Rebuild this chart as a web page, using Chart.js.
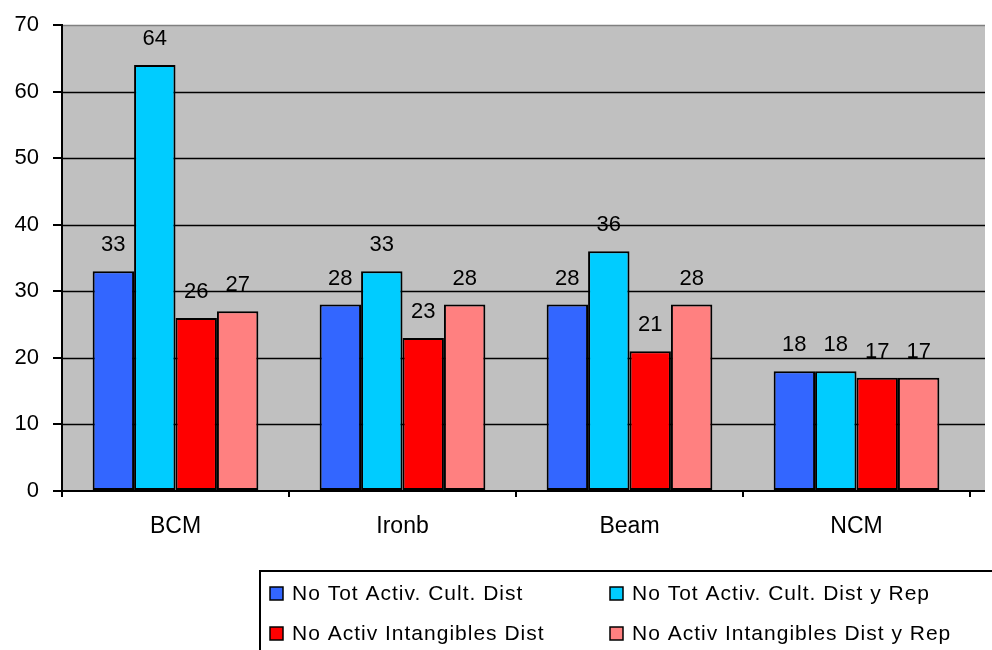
<!DOCTYPE html>
<html>
<head>
<meta charset="utf-8">
<script src="https://cdn.jsdelivr.net/npm/chart.js@4"></script>
<style>
  html, body { margin: 0; padding: 0; background: #fff; }
  #wrap { width: 992px; height: 650px; }
</style>
</head>
<body>
<div id="wrap"><canvas id="chart" width="992" height="650"></canvas></div>
<script>
/*===== DATA =====*/

const categories = ["BCM", "Ironb", "Beam", "NCM"];
const seriesNames = [
    "No Tot Activ. Cult. Dist",
    "No Tot Activ. Cult. Dist y Rep",
    "No Activ Intangibles Dist",
    "No Activ Intangibles Dist y Rep"
];
const totCultDist = [33, 28, 28, 18];
const totCultDistRep = [64, 33, 36, 18];
const intangDist = [26, 23, 21, 17];
const intangDistRep = [27, 28, 28, 17];
const yTicks = [0, 10, 20, 30, 40, 50, 60, 70];

const colours = ["#3366FF", "#00CCFF", "#FF0000", "#FF8080"];
const FONT = "'Liberation Sans', Arial, sans-serif";

/*===== PLUGINS =====*/

// gray plot background + horizontal grid lines (extend a bit past the last category)
var plotBg = {
    id: "plotBg",
    beforeDraw: function(chart) {
        var ctx = chart.ctx, a = chart.chartArea, y = chart.scales.y;
        var right = a.right + 15;
        ctx.save();
        ctx.fillStyle = "#C0C0C0";
        ctx.fillRect(a.left, a.top, right - a.left, a.bottom - a.top);
        yTicks.forEach(function(v) {
            if (v === 0) return;
            var py = Math.round(y.getPixelForValue(v)) + 0.5;
            ctx.strokeStyle = (v === 70) ? "#808080" : "#000";
            ctx.lineWidth = 1.5;
            ctx.beginPath();
            ctx.moveTo(a.left, py);
            ctx.lineTo(right, py);
            ctx.stroke();
        });
        // x axis line runs to the edge of the gray area
        ctx.strokeStyle = "#000";
        ctx.lineWidth = 2;
        ctx.beginPath();
        ctx.moveTo(a.left, a.bottom);
        ctx.lineTo(right, a.bottom);
        ctx.stroke();
        ctx.restore();
    }
};

// value labels above each bar
var valueLabels = {
    id: "valueLabels",
    afterDatasetsDraw: function(chart) {
        var ctx = chart.ctx;
        ctx.save();
        ctx.font = "22px " + FONT;
        ctx.fillStyle = "#000";
        ctx.textAlign = "center";
        ctx.textBaseline = "middle";
        chart.data.datasets.forEach(function(ds, i) {
            chart.getDatasetMeta(i).data.forEach(function(bar, j) {
                ctx.fillText(ds.data[j], bar.x, bar.y - 26);
            });
        });
        ctx.restore();
    }
};

// boxed legend at bottom right, two columns
var boxLegend = {
    id: "boxLegend",
    afterDraw: function(chart) {
        var ctx = chart.ctx;
        ctx.save();
        ctx.strokeStyle = "#000";
        ctx.lineWidth = 2;
        ctx.strokeRect(260, 571, 740, 90);
        ctx.font = "21px " + FONT;
        ctx.letterSpacing = "1px";
        ctx.textBaseline = "middle";
        ctx.textAlign = "left";
        var cols = [270, 610], rows = [593, 633];
        chart.data.datasets.forEach(function(ds, i) {
            var x = cols[i % 2], y = rows[Math.floor(i / 2)];
            ctx.fillStyle = ds.backgroundColor;
            ctx.fillRect(x, y - 6, 13, 13);
            ctx.strokeStyle = "#000";
            ctx.lineWidth = 1.5;
            ctx.strokeRect(x, y - 6, 13, 13);
            ctx.fillStyle = "#000";
            ctx.fillText(ds.label, x + 22, y + 1);
        });
        ctx.restore();
    }
};

/*===== CHART =====*/

const seriesData = [totCultDist, totCultDistRep, intangDist, intangDistRep];

new Chart("chart", {
    type: "bar",
    data: {
        labels: categories,
        datasets: seriesNames.map(function(name, i) {
            return {
                label: name,
                data: seriesData[i],
                backgroundColor: colours[i],
                borderColor: "#000",
                borderWidth: 2,
                borderSkipped: false,
                categoryPercentage: 0.73,
                barPercentage: 1.0
            };
        })
    },
    options: {
        responsive: false,
        animation: false,
        devicePixelRatio: 1,
        layout: { padding: { left: 0, right: 22, top: 25, bottom: 0 } },
        plugins: {
            legend: { display: false },
            tooltip: { enabled: false },
            title: { display: false }
        },
        scales: {
            x: {
                offset: true,
                grid: { display: true, drawOnChartArea: false, drawTicks: true, tickLength: 6, color: "#000", lineWidth: 2, offset: true },
                border: { display: true, color: "#000", width: 2 },
                ticks: { color: "#000", font: { family: FONT, size: 23 }, padding: 16, maxRotation: 0 },
                afterFit: function(s) { s.height = 159; }
            },
            y: {
                min: 0,
                max: 70,
                grid: { display: true, drawOnChartArea: false, drawTicks: true, tickLength: 9, color: "#000", lineWidth: 2 },
                border: { display: true, color: "#000", width: 2 },
                ticks: { stepSize: 10, color: "#000", font: { family: FONT, size: 22 }, padding: 14 },
                afterFit: function(s) { s.width = 62; s.paddingTop = 0; s.paddingBottom = 0; }
            }
        }
    },
    plugins: [plotBg, valueLabels, boxLegend]
});
</script>
</body>
</html>
